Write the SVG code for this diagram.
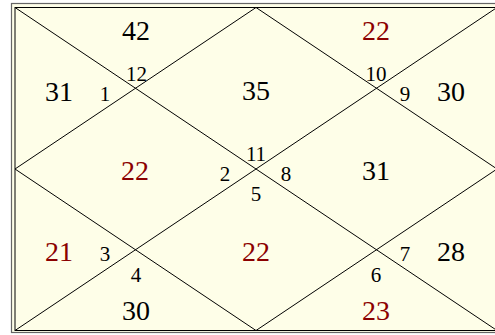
<svg xmlns="http://www.w3.org/2000/svg" width="495" height="335" viewBox="0 0 495 335">
<style>
.big{font-family:"Liberation Serif","Times New Roman",serif;font-size:28px;text-anchor:middle;fill:#000}
.red{fill:#8b0000}
.sm{font-family:"Liberation Serif","Times New Roman",serif;font-size:21px;text-anchor:middle;fill:#000}
.ln{stroke:#000;stroke-width:1;fill:none}
</style>
<rect x="0" y="0" width="495" height="335" fill="#ffffff"/>
<rect x="11.5" y="3.5" width="495" height="329" fill="#fefee8" stroke="#666" stroke-width="1.2"/>
<rect x="15" y="7.5" width="482" height="323" fill="#fefee8" stroke="#000" stroke-width="1"/>
<g id="connectors">
<line class="ln" x1="15" y1="7.5" x2="497" y2="330.5"/>
<line class="ln" x1="497" y1="7.5" x2="15" y2="330.5"/>
<polygon class="ln" points="256,7.5 497,169 256,330.5 15,169"/>
</g>
<g id="h1"><text class="big" x="256" y="100">35</text><text class="sm" x="256" y="160.5">11</text></g>
<g id="h2"><text class="big" x="136" y="40">42</text><text class="sm" x="136.5" y="81">12</text></g>
<g id="h3"><text class="big" x="59" y="101">31</text><text class="sm" x="105" y="101">1</text></g>
<g id="h4"><text class="big red" x="135" y="180">22</text><text class="sm" x="225" y="180.5">2</text></g>
<g id="h5"><text class="big red" x="59" y="261">21</text><text class="sm" x="105" y="261">3</text></g>
<g id="h6"><text class="big" x="136" y="320">30</text><text class="sm" x="136" y="281.5">4</text></g>
<g id="h7"><text class="big red" x="256" y="261">22</text><text class="sm" x="256" y="200.5">5</text></g>
<g id="h8"><text class="big red" x="376" y="320">23</text><text class="sm" x="376" y="281.5">6</text></g>
<g id="h9"><text class="big" x="451" y="261">28</text><text class="sm" x="405" y="261">7</text></g>
<g id="h10"><text class="big" x="376" y="180">31</text><text class="sm" x="286" y="180.5">8</text></g>
<g id="h11"><text class="big" x="451" y="101">30</text><text class="sm" x="405" y="101">9</text></g>
<g id="h12"><text class="big red" x="376" y="40">22</text><text class="sm" x="376" y="81">10</text></g>
</svg>
